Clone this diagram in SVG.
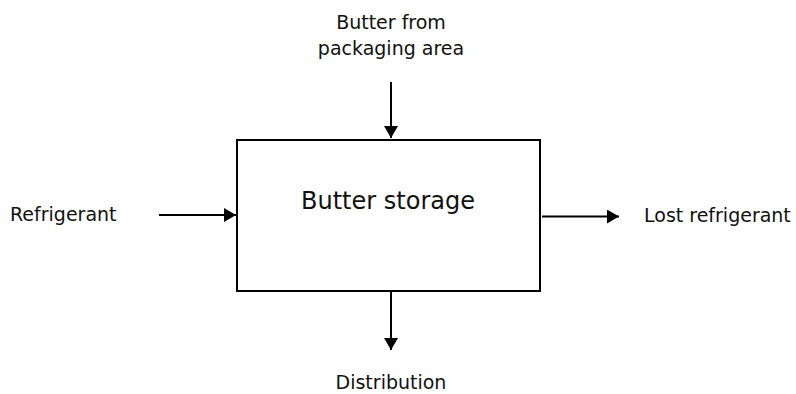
<svg xmlns="http://www.w3.org/2000/svg" width="796" height="394" viewBox="0 0 796 394">
<style>
.lbl{font-family:"DejaVu Sans",Verdana,sans-serif;font-size:19px;fill:#111}
.big{font-family:"DejaVu Sans",Verdana,sans-serif;font-size:24px;fill:#111}
.box{fill:#fff;stroke:#000;stroke-width:2}
.conn{stroke:#000;stroke-width:2;fill:none}
</style>
<defs>
<marker id="ah" markerUnits="userSpaceOnUse" markerWidth="14" markerHeight="14" viewBox="0 0 12 14" refX="12" refY="7" orient="auto">
<path d="M0,0 L12,7 L0,14 Z" fill="#000"/>
</marker>
</defs>
<rect width="796" height="394" fill="#fff"/>
<g id="storage">
<rect class="box" x="237" y="140" width="303" height="151"/>
<text class="big" x="388" y="209" text-anchor="middle">Butter storage</text>
</g>
<g id="packaging">
<text class="lbl" x="391" y="29" text-anchor="middle">Butter from</text>
<text class="lbl" x="391" y="55" text-anchor="middle">packaging area</text>
</g>
<g id="refrigerant">
<text class="lbl" x="10" y="221">Refrigerant</text>
</g>
<g id="lost">
<text class="lbl" x="644" y="222">Lost refrigerant</text>
</g>
<g id="distribution">
<text class="lbl" x="391" y="389" text-anchor="middle">Distribution</text>
</g>
<g id="connectors">
<line class="conn" x1="391" y1="82" x2="391" y2="138" marker-end="url(#ah)"/>
<line class="conn" x1="159" y1="215" x2="236" y2="215" marker-end="url(#ah)"/>
<line class="conn" x1="542" y1="216.5" x2="619" y2="216.5" marker-end="url(#ah)"/>
<line class="conn" x1="391" y1="292" x2="391" y2="350" marker-end="url(#ah)"/>
</g>
</svg>
